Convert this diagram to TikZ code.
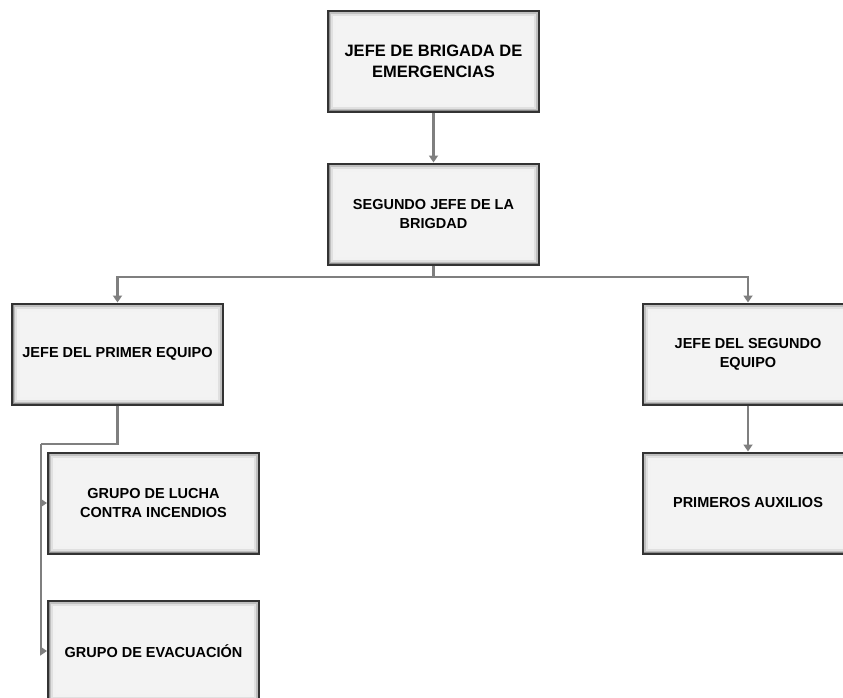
\documentclass[tikz,border=0pt]{standalone}
\usepackage{fontspec}
\setmainfont{Liberation Sans}
\usetikzlibrary{arrows.meta}
\tikzset{>={Triangle[width=9pt,length=7pt]}}
\definecolor{boxfill}{HTML}{F3F3F3}
\definecolor{boxline}{HTML}{333333}
\definecolor{linkgray}{HTML}{7F7F7F}
\tikzset{
  cargo/.style={draw=boxline, line width=2pt, fill=boxfill,
    minimum width=211pt, minimum height=101pt, align=center,
    font=\bfseries\fontsize{14.5}{19}\selectfont,
    path picture={
      \draw[black!5, line width=16pt] (path picture bounding box.south west)
        rectangle (path picture bounding box.north east);
      \draw[black!12, line width=10pt] (path picture bounding box.south west)
        rectangle (path picture bounding box.north east);
      \draw[black!25, line width=6pt] (path picture bounding box.south west)
        rectangle (path picture bounding box.north east);
      \draw[black!45, line width=3pt] (path picture bounding box.south west)
        rectangle (path picture bounding box.north east);}},
  enlace/.style={draw=linkgray, line width=2.2pt}
}

\begin{document}
\begin{tikzpicture}[x=1pt,y=-1pt]
\clip (0,0) rectangle (843,698);
\fill[white] (0,0) rectangle (843,698);

\node[cargo, font=\bfseries\fontsize{16.5}{21}\selectfont] (jefe) at (433.5,61.5)
  {JEFE DE BRIGADA DE\\EMERGENCIAS};
\node[cargo] (segundo) at (433.5,214) {SEGUNDO JEFE DE LA\\BRIGDAD};

\node[cargo] (equipoA) at (117.5,354) {JEFE DEL PRIMER EQUIPO};
\node[cargo] (equipoB) at (748,354) {JEFE DEL SEGUNDO\\EQUIPO};

\node[cargo] (lucha) at (153.5,503) {GRUPO DE LUCHA\\CONTRA INCENDIOS};
\node[cargo] (evac) at (153.5,651) {GRUPO DE EVACUACIÓN};
\node[cargo] (auxilios) at (748,503) {PRIMEROS AUXILIOS};

\coordinate (rama) at (433.5,277);
\coordinate (codo) at (41,444);

\draw[enlace,->] (jefe) -- (segundo);
\draw[enlace] (segundo) -- (rama);
\draw[enlace,->] (rama) -| (equipoA);
\draw[enlace,->] (rama) -| (equipoB);

\draw[enlace] (equipoA) |- (codo);
\draw[enlace,->] (codo) |- (lucha);
\draw[enlace,->] (codo) |- (evac);

\draw[enlace,->] (equipoB) -- (auxilios);
\end{tikzpicture}
\end{document}
